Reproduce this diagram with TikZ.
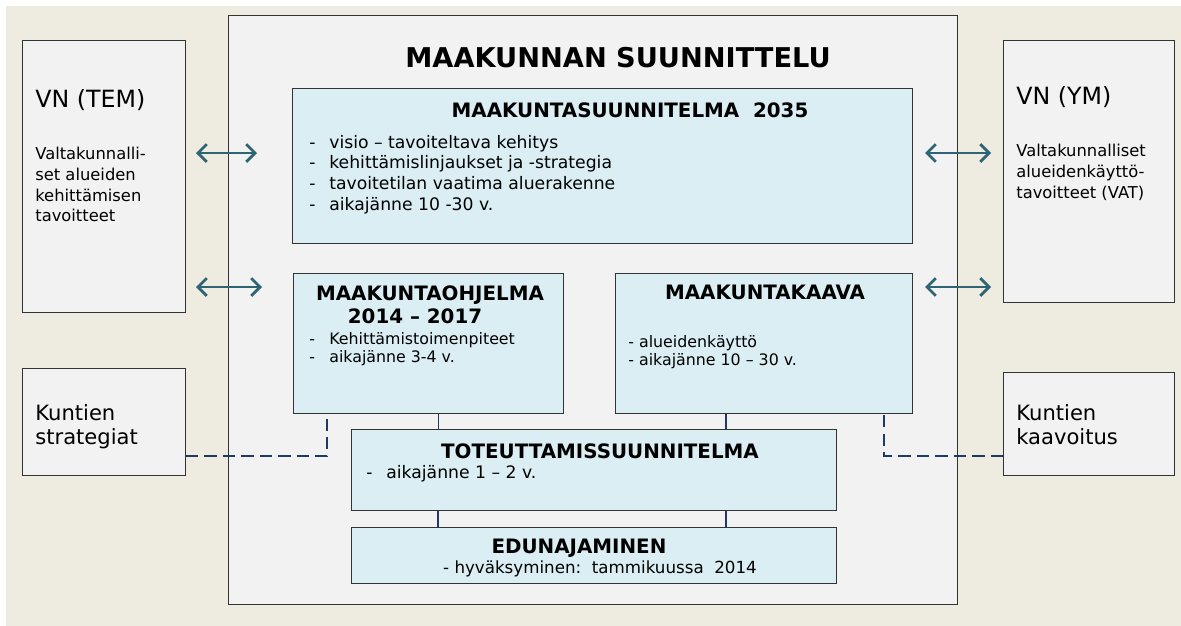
\documentclass[tikz,border=0pt]{standalone}
\usepackage{fontspec}
\setmainfont{DejaVu Sans}
\usetikzlibrary{arrows.meta}
\definecolor{paper}{RGB}{238,236,225}
\definecolor{panelgray}{RGB}{242,242,242}
\definecolor{planblue}{RGB}{218,238,243}
\definecolor{linkteal}{RGB}{46,101,116}
\definecolor{linknavy}{RGB}{31,56,100}
\newcommand{\bul}[1]{\makebox[0.4cm][l]{-}#1}
\tikzset{
    x=0.02cm, y=-0.02cm, % one unit is one pixel of the sketch, y runs down
    box/.style={ % every rectangle of the chart
        draw=black!80,
        line width=0.6pt,
        anchor=north west,
        inner sep=0pt
    },
    panelbox/.style={box, fill=panelgray},
    planbox/.style={box, fill=planblue},
    note/.style={anchor=north west, inner sep=0pt, align=left},
    title/.style={font=\bfseries\fontsize{15.5}{18}\selectfont},
    head/.style={anchor=north, inner sep=0pt, align=center,
        font=\bfseries\fontsize{11.3}{13.2}\selectfont},
    bigtxt/.style={note, font=\fontsize{13.5}{16}\selectfont},
    midtxt/.style={note, font=\fontsize{12}{13.6}\selectfont},
    smalltxt/.style={note, font=\fontsize{9.3}{11.8}\selectfont},
    bodytxt/.style={note, font=\fontsize{9.8}{11.7}\selectfont},
    tighttxt/.style={note, font=\fontsize{9}{10.6}\selectfont},
    twoway/.style={ % the exchange with the ministries
        {Straight Barb[length=5pt,width=10pt]}-{Straight Barb[length=5pt,width=10pt]},
        line width=1.6pt,
        draw=linkteal
    },
    dashlink/.style={draw=linknavy, line width=1.4pt, dash pattern=on 7pt off 3.5pt},
    tick/.style={draw=linknavy, line width=1pt}
}
\begin{document}
\begin{tikzpicture}
    \useasboundingbox (0,0) rectangle (1181,626);
    \fill[paper] (6,6) rectangle (1181,626);

    % frame and outside parties
    \node[panelbox, minimum width=14.58cm, minimum height=11.78cm] (main) at (228,15) {};
    \node[panelbox, minimum width=3.26cm, minimum height=5.44cm] (tem) at (22,40) {};
    \node[panelbox, minimum width=3.26cm, minimum height=2.14cm] (ks) at (22,368) {};
    \node[panelbox, minimum width=3.42cm, minimum height=5.24cm] (ym) at (1003,40) {};
    \node[panelbox, minimum width=3.42cm, minimum height=2.06cm] (kk) at (1003,372) {};

    % plans
    \node[planbox, minimum width=12.40cm, minimum height=3.10cm] (msu) at (292,88) {};
    \node[planbox, minimum width=5.40cm, minimum height=2.80cm] (mo) at (293,273) {};
    \node[planbox, minimum width=5.94cm, minimum height=2.80cm] (mk) at (615,273) {};
    \node[planbox, minimum width=9.70cm, minimum height=1.62cm] (ts) at (351,429) {};
    \node[planbox, minimum width=9.70cm, minimum height=1.12cm] (ed) at (351,527) {};

    \node[title] (ttl) at (618,58) {MAAKUNNAN SUUNNITTELU};

    \node[bigtxt] (temhead) at (35,89) {VN (TEM)};
    \node[smalltxt] (tembody) at (35,147) {Valtakunnalli-\\set alueiden\\kehittämisen\\tavoitteet};
    \node[bigtxt] (ymhead) at (1016,86) {VN (YM)};
    \node[smalltxt] (ymbody) at (1016,144) {Valtakunnalliset\\alueidenkäyttö-\\tavoitteet (VAT)};
    \node[midtxt] (kstext) at (35,404) {Kuntien\\strategiat};
    \node[midtxt] (kktext) at (1016,404) {Kuntien\\kaavoitus};

    \node[head] (msuhead) at (630,102) {MAAKUNTASUUNNITELMA\ \ 2035};
    \node[bodytxt] (msutext) at (309,135) {\bul{visio – tavoiteltava kehitys}\\
        \bul{kehittämislinjaukset\ ja -strategia}\\
        \bul{tavoitetilan vaatima aluerakenne}\\
        \bul{aikajänne\ 10 -30 v.}};

    \node[head] (mohead) at (430,285) {MAAKUNTAOHJELMA\\2014 – 2017\hspace*{0.6cm}};
    \node[tighttxt] (motext) at (309,332) {\bul{Kehittämistoimenpiteet}\\\bul{aikajänne 3-4 v.}};
    \node[head] (mkhead) at (765,285) {MAAKUNTAKAAVA};
    \node[tighttxt] (mktext) at (628,335) {- alueidenkäyttö\\- aikajänne 10 – 30 v.};

    \node[head] (tshead) at (600,443) {TOTEUTTAMISSUUNNITELMA};
    \node[bodytxt] (tstext) at (366,465) {\bul{aikajänne\ 1 – 2 v.}};
    \node[head] (edhead) at (579,539) {EDUNAJAMINEN};
    \node[note, anchor=north, font=\fontsize{9.5}{11}\selectfont] (edtext) at (600,560) {- hyväksyminen:\ \ tammikuussa\ \ 2014};

    % exchange arrows
    \coordinate (al1) at (196,153);
    \coordinate (ar1) at (257,153);
    \coordinate (al2) at (196,287);
    \coordinate (ar2) at (262,287);
    \coordinate (bl1) at (925,153);
    \coordinate (br1) at (991,153);
    \coordinate (bl2) at (925,287);
    \coordinate (br2) at (991,287);
    \draw[twoway] (al1) -- (ar1);
    \draw[twoway] (al2) -- (ar2);
    \draw[twoway] (bl1) -- (br1);
    \draw[twoway] (bl2) -- (br2);

    % municipal links
    \coordinate (kslevel) at (0,456);
    \draw[dashlink] (ks.east |- kslevel) -| ([xshift=0.68cm]mo.south west);
    \draw[dashlink] (kk.west |- kslevel) -| ([xshift=-0.58cm]mk.south east);

    % short links between the plans
    \path ([xshift=1.74cm]ts.north west) coordinate (t1)
          ([xshift=7.50cm]ts.north west) coordinate (t2)
          ([xshift=1.74cm]ts.south west) coordinate (t3)
          ([xshift=7.50cm]ts.south west) coordinate (t4);
    \draw[tick, line width=0.5pt] (t1) -- (t1 |- mo.south);
    \draw[tick] (t2) -- (t2 |- mk.south);
    \draw[tick] (t3) -- (t3 |- ed.north);
    \draw[tick] (t4) -- (t4 |- ed.north);
\end{tikzpicture}
\end{document}
